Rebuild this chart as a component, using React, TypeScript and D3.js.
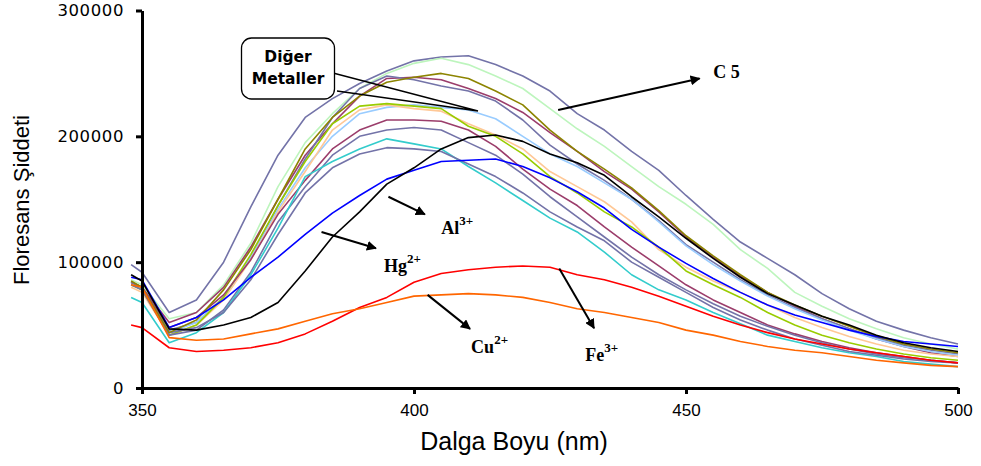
import React, { useEffect, useRef } from "react";
import * as d3 from "d3";

const width = 981;
const height = 466;
const margin = { top: 10.5, right: 23, bottom: 78, left: 142 };

// wavelength grid (nm)
const wavelengths = [348, 350, 355, 360, 365, 370, 375, 380, 385, 390, 395, 400, 405, 410, 415, 420, 425, 430, 435, 440, 445, 450, 455, 460, 465, 470, 475, 480, 485, 490, 495, 500];

const slate1 = [98000, 92000, 60000, 70000, 100000, 144000, 185000, 215000, 230000, 242000, 252000, 260000, 263000, 264000, 257000, 248000, 236000, 218000, 205000, 188000, 173000, 153000, 134000, 116000, 103000, 90000, 75000, 63000, 53000, 46000, 40000, 35000];
const lightGreen = [86000, 82000, 55000, 60000, 82000, 115000, 160000, 195000, 218000, 238000, 250000, 258000, 262000, 257000, 248000, 238000, 222000, 206000, 192000, 176000, 160000, 146000, 130000, 110000, 95000, 76000, 65000, 55000, 47000, 40000, 35000, 31000];
const olive = [85000, 80000, 44000, 54000, 78000, 110000, 150000, 190000, 215000, 232000, 243000, 247000, 250000, 246000, 236000, 225000, 205000, 188000, 174000, 159000, 141000, 121000, 105000, 90000, 76000, 66000, 57000, 49000, 41000, 35000, 31000, 28000];
const maroon1 = [84000, 80000, 52000, 60000, 80000, 112000, 150000, 185000, 210000, 232000, 246000, 247000, 245000, 238000, 230000, 219000, 203000, 188000, 172000, 158000, 140000, 120000, 104000, 89000, 76000, 65000, 55000, 47000, 39000, 33000, 28000, 25000];
const slate2 = [84000, 80000, 46000, 52000, 72000, 104000, 145000, 182000, 215000, 238000, 248000, 245000, 240000, 236000, 228000, 213000, 193000, 178000, 165000, 150000, 133000, 114000, 100000, 86000, 74000, 64000, 55000, 47000, 40000, 34000, 30000, 27000];
const lightBlue = [82000, 78000, 44000, 52000, 72000, 104000, 142000, 175000, 200000, 218000, 223000, 225000, 223000, 221000, 214000, 200000, 186000, 176000, 163000, 150000, 132000, 113000, 98000, 85000, 73000, 63000, 54000, 46000, 39000, 33000, 29000, 26000];
const peach = [80000, 76000, 42000, 50000, 70000, 102000, 140000, 172000, 205000, 221000, 225000, 222000, 220000, 210000, 201000, 190000, 172000, 160000, 148000, 132000, 110000, 96000, 85000, 76000, 66000, 56000, 48000, 41000, 35000, 30000, 27000, 25000];
const yellowGreen = [82000, 78000, 42000, 50000, 72000, 106000, 145000, 180000, 210000, 224000, 226000, 224000, 222000, 208000, 200000, 186000, 168000, 155000, 140000, 128000, 112000, 93000, 82000, 72000, 60000, 50000, 42000, 36000, 31000, 27000, 24000, 22000];
const maroon2 = [84000, 80000, 48000, 56000, 74000, 102000, 138000, 165000, 190000, 205000, 213000, 213000, 212000, 205000, 192000, 174000, 158000, 145000, 128000, 112000, 97000, 82000, 70000, 60000, 50000, 43000, 37000, 32000, 28000, 25000, 22000, 20000];
const slate3 = [82000, 78000, 42000, 46000, 62000, 92000, 132000, 160000, 185000, 200000, 205000, 207000, 205000, 195000, 185000, 170000, 152000, 136000, 120000, 104000, 90000, 78000, 67000, 57000, 49000, 42000, 36000, 31000, 27000, 24000, 22000, 20000];
const cyan = [72000, 68000, 36000, 44000, 60000, 90000, 127000, 168000, 180000, 190000, 198000, 194000, 190000, 176000, 163000, 149000, 135000, 124000, 108000, 90000, 78000, 70000, 60000, 51000, 42000, 37000, 32000, 28000, 25000, 21000, 19000, 17000];
const slate4 = [84000, 80000, 44000, 48000, 60000, 86000, 122000, 155000, 175000, 186000, 191000, 190000, 188000, 178000, 168000, 155000, 140000, 128000, 117000, 100000, 88000, 76000, 64000, 54000, 46000, 39000, 34000, 29000, 26000, 23000, 21000, 20000];
const blue = [88000, 86000, 48000, 56000, 70000, 88000, 104000, 122000, 139000, 153000, 166000, 173000, 180000, 181000, 182000, 176000, 167000, 156000, 143000, 126000, 112000, 99000, 87000, 76000, 66000, 58000, 52000, 46000, 41000, 37000, 35000, 33000];
const black = [90000, 85000, 47000, 46000, 50000, 56000, 68000, 93000, 120000, 140000, 162000, 175000, 190000, 199000, 201000, 196000, 186000, 179000, 169000, 152000, 136000, 119000, 103000, 88000, 75000, 66000, 57000, 50000, 42000, 36000, 32000, 29000];
const red = [50000, 48000, 32000, 29000, 30000, 32000, 36000, 43000, 53000, 64000, 72000, 84000, 91000, 94000, 96000, 97000, 96000, 90000, 86000, 80000, 73000, 65000, 57000, 50000, 44000, 39000, 35000, 31000, 28000, 25000, 22000, 20000];
const orange = [82000, 80000, 40000, 38000, 39000, 43000, 47000, 53000, 59000, 63000, 68000, 73000, 74000, 75000, 74000, 72000, 68000, 63000, 60000, 56000, 52000, 46000, 42000, 37000, 33000, 30000, 28000, 25000, 22000, 20000, 18000, 17000];

const seriesList = [
  { name: "slate1", color: "#7373a8", values: slate1 },
  { name: "lightGreen", color: "#bdf5bd", values: lightGreen },
  { name: "maroon1", color: "#9b3d6b", values: maroon1 },
  { name: "slate2", color: "#7373a8", values: slate2 },
  { name: "lightBlue", color: "#99ccff", values: lightBlue },
  { name: "peach", color: "#ffc896", values: peach },
  { name: "yellowGreen", color: "#99cc00", values: yellowGreen },
  { name: "maroon2", color: "#9b3d6b", values: maroon2 },
  { name: "slate3", color: "#7373a8", values: slate3 },
  { name: "cyan", color: "#33cccc", values: cyan },
  { name: "slate4", color: "#7373a8", values: slate4 },
  { name: "olive", color: "#8c8400", values: olive },
  { name: "blue", color: "#0000ff", values: blue },
  { name: "black", color: "#000000", values: black },
  { name: "red", color: "#ff0000", values: red },
  { name: "orange", color: "#ff6600", values: orange },
];

const xTicks = [350, 400, 450, 500];
const yTicks = [0, 100000, 200000, 300000];

// annotation arrows, in data units (nm, intensity)
const arrows = [
  { label: "C 5", sup: "", from: [426.5, 221000], to: [452.5, 246000], text: [455, 246500] },
  { label: "Al", sup: "3+", from: [395.3, 152000], to: [402, 138000], text: [405, 122000] },
  { label: "Hg", sup: "2+", from: [383, 124000], to: [393, 111000], text: [394.5, 92000] },
  { label: "Cu", sup: "2+", from: [402.5, 74000], to: [410.3, 47000], text: [410.5, 27500] },
  { label: "Fe", sup: "3+", from: [426.7, 95000], to: [433.1, 47500], text: [431.5, 21500] },
];

const App = () => {
  const ref = useRef<SVGSVGElement>(null);

  useEffect(() => {
    const svg = d3.select(ref.current);
    svg.selectAll("*").remove();

    const x = d3.scaleLinear().domain([350, 500]).range([margin.left, width - margin.right]);
    const y = d3.scaleLinear().domain([0, 300000]).range([height - margin.bottom, margin.top]);

    const defs = svg.append("defs");
    defs
      .append("marker")
      .attr("id", "head")
      .attr("viewBox", "0 0 10 10")
      .attr("refX", 9)
      .attr("refY", 5)
      .attr("markerWidth", 5)
      .attr("markerHeight", 5)
      .attr("orient", "auto")
      .append("path")
      .attr("d", "M0,0 L10,5 L0,10 z")
      .attr("fill", "#000");

    const line = d3
      .line<number>()
      .x((d, i) => x(wavelengths[i]))
      .y((d) => y(d));

    svg
      .append("g")
      .selectAll("path")
      .data(seriesList)
      .enter()
      .append("path")
      .attr("d", (s) => line(s.values))
      .attr("fill", "none")
      .attr("stroke", (s) => s.color)
      .attr("stroke-width", 1.6)
      .attr("stroke-linejoin", "round");

    // axes
    const yAxis = svg
      .append("g")
      .attr("transform", `translate(${margin.left},0)`)
      .call(d3.axisLeft(y).tickValues(yTicks).tickSize(6).tickSizeOuter(0).tickPadding(12).tickFormat(d3.format("d")));
    yAxis.select(".domain").attr("stroke-width", 3);
    yAxis.selectAll(".tick line").attr("stroke-width", 3);
    yAxis
      .selectAll("text")
      .attr("font-family", "DejaVu Sans, Verdana, sans-serif")
      .attr("font-size", 16.5)
      .attr("letter-spacing", 0.6)
      .attr("fill", "#000");

    const xAxis = svg
      .append("g")
      .attr("transform", `translate(0,${height - margin.bottom})`)
      .call(d3.axisBottom(x).tickValues(xTicks).tickSize(6).tickSizeOuter(0).tickPadding(10));
    xAxis.select(".domain").attr("stroke-width", 3);
    xAxis.selectAll(".tick line").attr("stroke-width", 3);
    xAxis.selectAll("text").attr("font-family", "Liberation Sans, Arial, sans-serif").attr("font-size", 17).attr("fill", "#000");

    svg
      .append("text")
      .attr("x", 514)
      .attr("y", 450)
      .attr("text-anchor", "middle")
      .attr("font-family", "Liberation Sans, Arial, sans-serif")
      .attr("font-size", 25)
      .text("Dalga Boyu (nm)");

    svg
      .append("text")
      .attr("transform", `translate(29,200) rotate(-90)`)
      .attr("text-anchor", "middle")
      .attr("font-family", "Liberation Sans, Arial, sans-serif")
      .attr("font-size", 22)
      .text("Floresans Şiddeti");

    // callout "Diğer Metaller"
    const ann = svg.append("g");
    ann
      .append("path")
      .attr("d", "M333,73 L478,111 L337,91")
      .attr("fill", "none")
      .attr("stroke", "#000")
      .attr("stroke-width", 1.3);
    ann
      .append("rect")
      .attr("x", 241.5)
      .attr("y", 38)
      .attr("width", 93)
      .attr("height", 61)
      .attr("rx", 10)
      .attr("fill", "#fff")
      .attr("stroke", "#000")
      .attr("stroke-width", 1.3);
    ["Diğer", "Metaller"].forEach((w, i) => {
      ann
        .append("text")
        .attr("x", 288)
        .attr("y", 62 + i * 22)
        .attr("text-anchor", "middle")
        .attr("font-family", "DejaVu Sans, Verdana, sans-serif")
        .attr("font-weight", "bold")
        .attr("font-size", 15.5)
        .text(w);
    });

    arrows.forEach((a) => {
      ann
        .append("line")
        .attr("x1", x(a.from[0]))
        .attr("y1", y(a.from[1]))
        .attr("x2", x(a.to[0]))
        .attr("y2", y(a.to[1]))
        .attr("stroke", "#000")
        .attr("stroke-width", 2)
        .attr("marker-end", "url(#head)");
      const t = ann
        .append("text")
        .attr("x", x(a.text[0]))
        .attr("y", y(a.text[1]))
        .attr("font-family", "Liberation Serif, Times New Roman, serif")
        .attr("font-weight", "bold")
        .attr("font-size", 18)
        .text(a.label);
      if (a.sup) {
        t.append("tspan").attr("dy", -9).attr("font-size", 13).text(a.sup);
      }
    });
  }, []);

  return (
    <svg
      ref={ref}
      width={width}
      height={height}
      style={{ position: "absolute", left: 0, top: 0, background: "#fff" }}
    />
  );
};

export default App;
